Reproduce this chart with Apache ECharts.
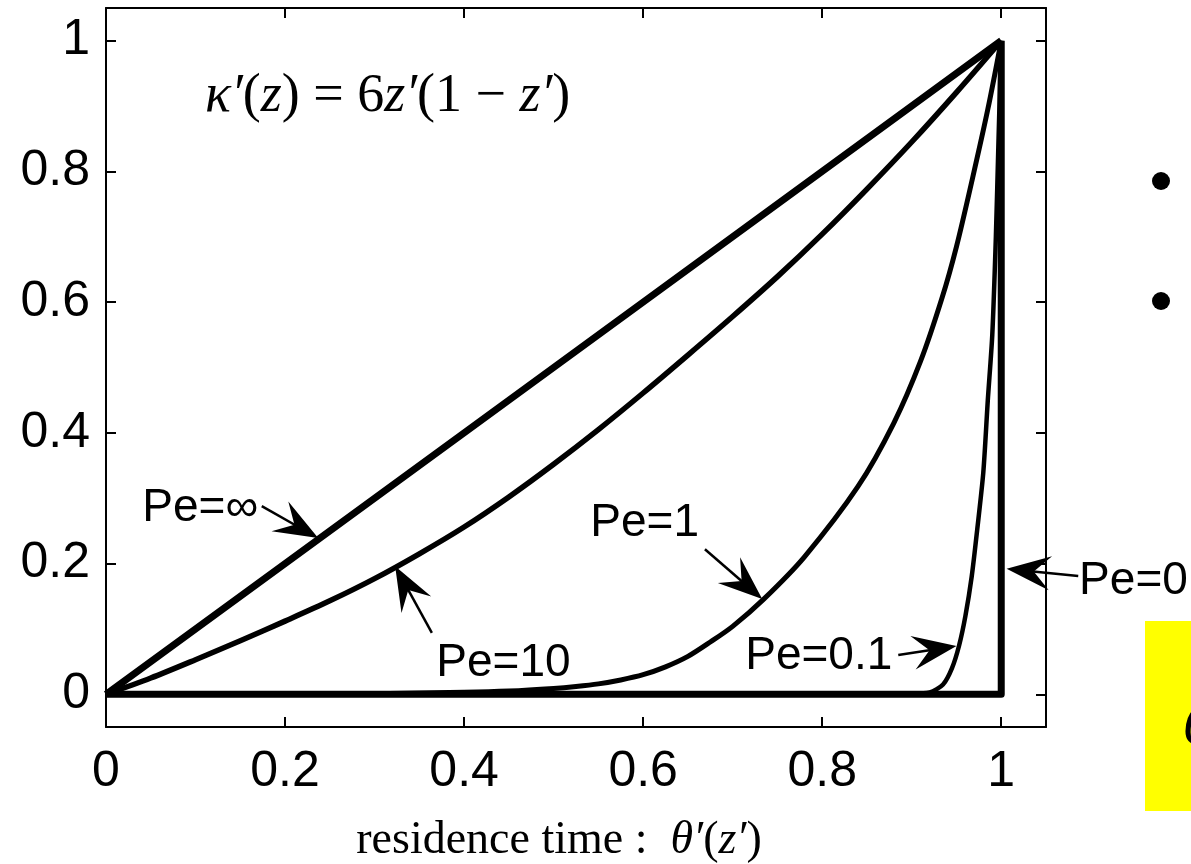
<!DOCTYPE html>
<html>
<head>
<meta charset="utf-8">
<script src="https://cdn.jsdelivr.net/npm/echarts@6/dist/echarts.min.js"></script>
<style>
html,body{margin:0;padding:0;background:#fff;}
#chart{width:1191px;height:864px;}
</style>
</head>
<body>
<div id="chart"></div>
<script>
// tick values shown on both axes
var tickValues = [0, 0.2, 0.4, 0.6, 0.8, 1];

// curves, x = residence time theta'(z'), y = z'
var peInfX = [0, 0.5, 1];
var peInfY = [0, 0.5, 1];
var pe10X = [0, 0.05, 0.1, 0.15, 0.2, 0.25, 0.3, 0.35, 0.4, 0.45, 0.5, 0.55, 0.6, 0.65, 0.7, 0.75, 0.8, 0.85, 0.9, 0.95, 1];
var pe10Y = [0, 0.025, 0.053, 0.082, 0.112, 0.143, 0.177, 0.215, 0.256, 0.302, 0.352, 0.405, 0.461, 0.519, 0.578, 0.639, 0.704, 0.773, 0.845, 0.921, 1];
var pe1X = [0, 0.2, 0.3, 0.4, 0.45, 0.5, 0.525, 0.55, 0.575, 0.6, 0.625, 0.65, 0.675, 0.7, 0.735, 0.78, 0.84, 0.88, 0.91, 0.934, 0.95, 0.968, 0.985, 1];
var pe1Y = [0, 0, 0.001, 0.003, 0.005, 0.009, 0.012, 0.016, 0.022, 0.03, 0.042, 0.058, 0.08, 0.104, 0.146, 0.21, 0.318, 0.415, 0.51, 0.607, 0.685, 0.79, 0.895, 1];
var pe01X = [0, 0.88, 0.92, 0.935, 0.945, 0.953, 0.96, 0.967, 0.973, 0.98, 0.985, 0.99, 0.994, 0.997, 1];
var pe01Y = [0, 0, 0.003, 0.015, 0.04, 0.075, 0.12, 0.18, 0.25, 0.34, 0.45, 0.55, 0.7, 0.85, 1];
var pe0X = [0, 1, 1];
var pe0Y = [0, 0, 1];

// labels with arrows (data coords): text anchor, arrow tail, arrow tip
var notes = [
	{text: 'Pe=∞', at: [0.170, 0.285], align: 'right', from: [0.174, 0.288], to: [0.237, 0.239]},
	{text: 'Pe=10', at: [0.369, 0.048], align: 'left', from: [0.364, 0.094], to: [0.323, 0.196]},
	{text: 'Pe=1', at: [0.541, 0.261], align: 'left', from: [0.669, 0.222], to: [0.733, 0.146]},
	{text: 'Pe=0.1', at: [0.714, 0.058], align: 'left', from: [0.885, 0.060], to: [0.950, 0.074]},
	{text: 'Pe=0', at: [1.087, 0.173], align: 'left', from: [1.086, 0.181], to: [1.006, 0.192]}
];

function pairs(xs, ys){
	var out = [];
	for(var i=0;i<xs.length;i++){
		out.push([xs[i], ys[i]]);
	}
	return out;
}

function curve(name, xs, ys, w, smooth){
	return {
		name: name,
		type: 'line',
		data: pairs(xs, ys),
		showSymbol: false,
		symbol: 'none',
		smooth: smooth,
		clip: false,
		lineStyle: {color: '#000', width: w, join: 'round'},
		z: 3
	};
}

var chart = echarts.init(document.getElementById('chart'), null, {renderer: 'canvas'});

var sans = 'Liberation Sans, Arial, Helvetica, sans-serif';
var serif = 'Liberation Serif, Times New Roman, serif';

var option = {
	backgroundColor: '#fff',
	animation: false,
	grid: {left: 106, top: 8, right: 145, bottom: 137, containLabel: false, outerBoundsMode: 'none'},
	xAxis: [{
		type: 'value', min: 0, max: 1.05, position: 'bottom',
		axisLine: {show: true, onZero: false, lineStyle: {color: '#000', width: 2}},
		axisTick: {show: true, inside: true, length: 10, lineStyle: {color: '#000', width: 2}, customValues: tickValues},
		axisLabel: {show: true, customValues: tickValues, color: '#000', fontSize: 50, fontFamily: sans, margin: 20,
			formatter: function(v){ return String(+v.toFixed(1)); }},
		splitLine: {show: false},
		name: '{t|residence time :  }{i|θ′}{t|(}{i|z′}{t|)}',
		nameLocation: 'middle', nameGap: 91,
		nameTextStyle: {padding: [0, 34, 0, 0], rich: {
			t: {fontFamily: serif, fontSize: 46, color: '#000'},
			i: {fontFamily: serif, fontSize: 46, color: '#000', fontStyle: 'italic'}
		}}
	}, {
		type: 'value', min: 0, max: 1.05, position: 'top',
		axisLine: {show: true, onZero: false, lineStyle: {color: '#000', width: 2}},
		axisTick: {show: true, inside: true, length: 10, lineStyle: {color: '#000', width: 2}, customValues: tickValues},
		axisLabel: {show: false},
		splitLine: {show: false}
	}],
	yAxis: [{
		type: 'value', min: -0.05, max: 1.05, position: 'left',
		axisLine: {show: true, onZero: false, lineStyle: {color: '#000', width: 2}},
		axisTick: {show: true, inside: true, length: 10, lineStyle: {color: '#000', width: 2}, customValues: tickValues},
		axisLabel: {show: true, customValues: tickValues, color: '#000', fontSize: 50, fontFamily: sans, margin: 16,
			formatter: function(v){ return String(+v.toFixed(1)); }},
		splitLine: {show: false}
	}, {
		type: 'value', min: -0.05, max: 1.05, position: 'right',
		axisLine: {show: true, onZero: false, lineStyle: {color: '#000', width: 2}},
		axisTick: {show: true, inside: true, length: 10, lineStyle: {color: '#000', width: 2}, customValues: tickValues},
		axisLabel: {show: false},
		splitLine: {show: false}
	}],
	series: [
		curve('Pe=∞', peInfX, peInfY, 7, false),
		curve('Pe=10', pe10X, pe10Y, 5.5, 0.3),
		curve('Pe=1', pe1X, pe1Y, 5, 0.3),
		curve('Pe=0.1', pe01X, pe01Y, 4.5, 0.25),
		curve('Pe=0', pe0X, pe0Y, 7, false)
	]
};
chart.setOption(option);

// arrows and text placed through the grid's own coordinate system
function arrowHead(tail, tip){
	var dx = tip[0]-tail[0], dy = tip[1]-tail[1];
	var len = Math.sqrt(dx*dx+dy*dy);
	var ux = dx/len, uy = dy/len;
	var L = 44, W = 17;
	var bx = tip[0]-ux*L, by = tip[1]-uy*L;
	var nx = tip[0]-ux*L*0.62, ny = tip[1]-uy*L*0.62;
	return [tip, [bx-uy*W, by+ux*W], [nx, ny], [bx+uy*W, by-ux*W]];
}

var elements = [];
notes.forEach(function(n){
	var p = chart.convertToPixel({gridIndex: 0}, n.at);
	var a = chart.convertToPixel({gridIndex: 0}, n.from);
	var b = chart.convertToPixel({gridIndex: 0}, n.to);
	elements.push({
		type: 'text', x: p[0], y: p[1], z: 10,
		style: {text: n.text, fill: '#000', font: '46px ' + sans, textAlign: n.align, textVerticalAlign: 'middle'}
	});
	elements.push({
		type: 'line', z: 10,
		shape: {x1: a[0], y1: a[1], x2: b[0] - (b[0]-a[0])*0.3, y2: b[1] - (b[1]-a[1])*0.3},
		style: {stroke: '#000', lineWidth: 2.5}
	});
	elements.push({
		type: 'polygon', z: 10,
		shape: {points: arrowHead(a, b)},
		style: {fill: '#000'}
	});
});

// formula
elements.push({
	type: 'text', left: 205, top: 70, z: 10,
	style: {
		text: '{i|κ′}{t|(}{i|z}{t|) = 6}{i|z′}{t|(1 − }{i|z′}{t|)}',
		rich: {
			t: {fontFamily: serif, fontSize: 54, fill: '#000'},
			i: {fontFamily: serif, fontSize: 54, fill: '#000', fontStyle: 'italic'}
		}
	}
});

// cut-off slide content on the right
elements.push({type: 'circle', shape: {cx: 1161, cy: 181, r: 9}, style: {fill: '#000'}});
elements.push({type: 'circle', shape: {cx: 1161, cy: 301, r: 9}, style: {fill: '#000'}});
elements.push({type: 'rect', shape: {x: 1145, y: 621, width: 60, height: 190}, style: {fill: '#ffff00'}, z: 1});
elements.push({type: 'text', x: 1183, y: 728, z: 2,
	style: {text: '6', fill: '#000', font: 'italic 60px ' + serif, textVerticalAlign: 'middle'}});

chart.setOption({graphic: elements});
</script>
</body>
</html>
